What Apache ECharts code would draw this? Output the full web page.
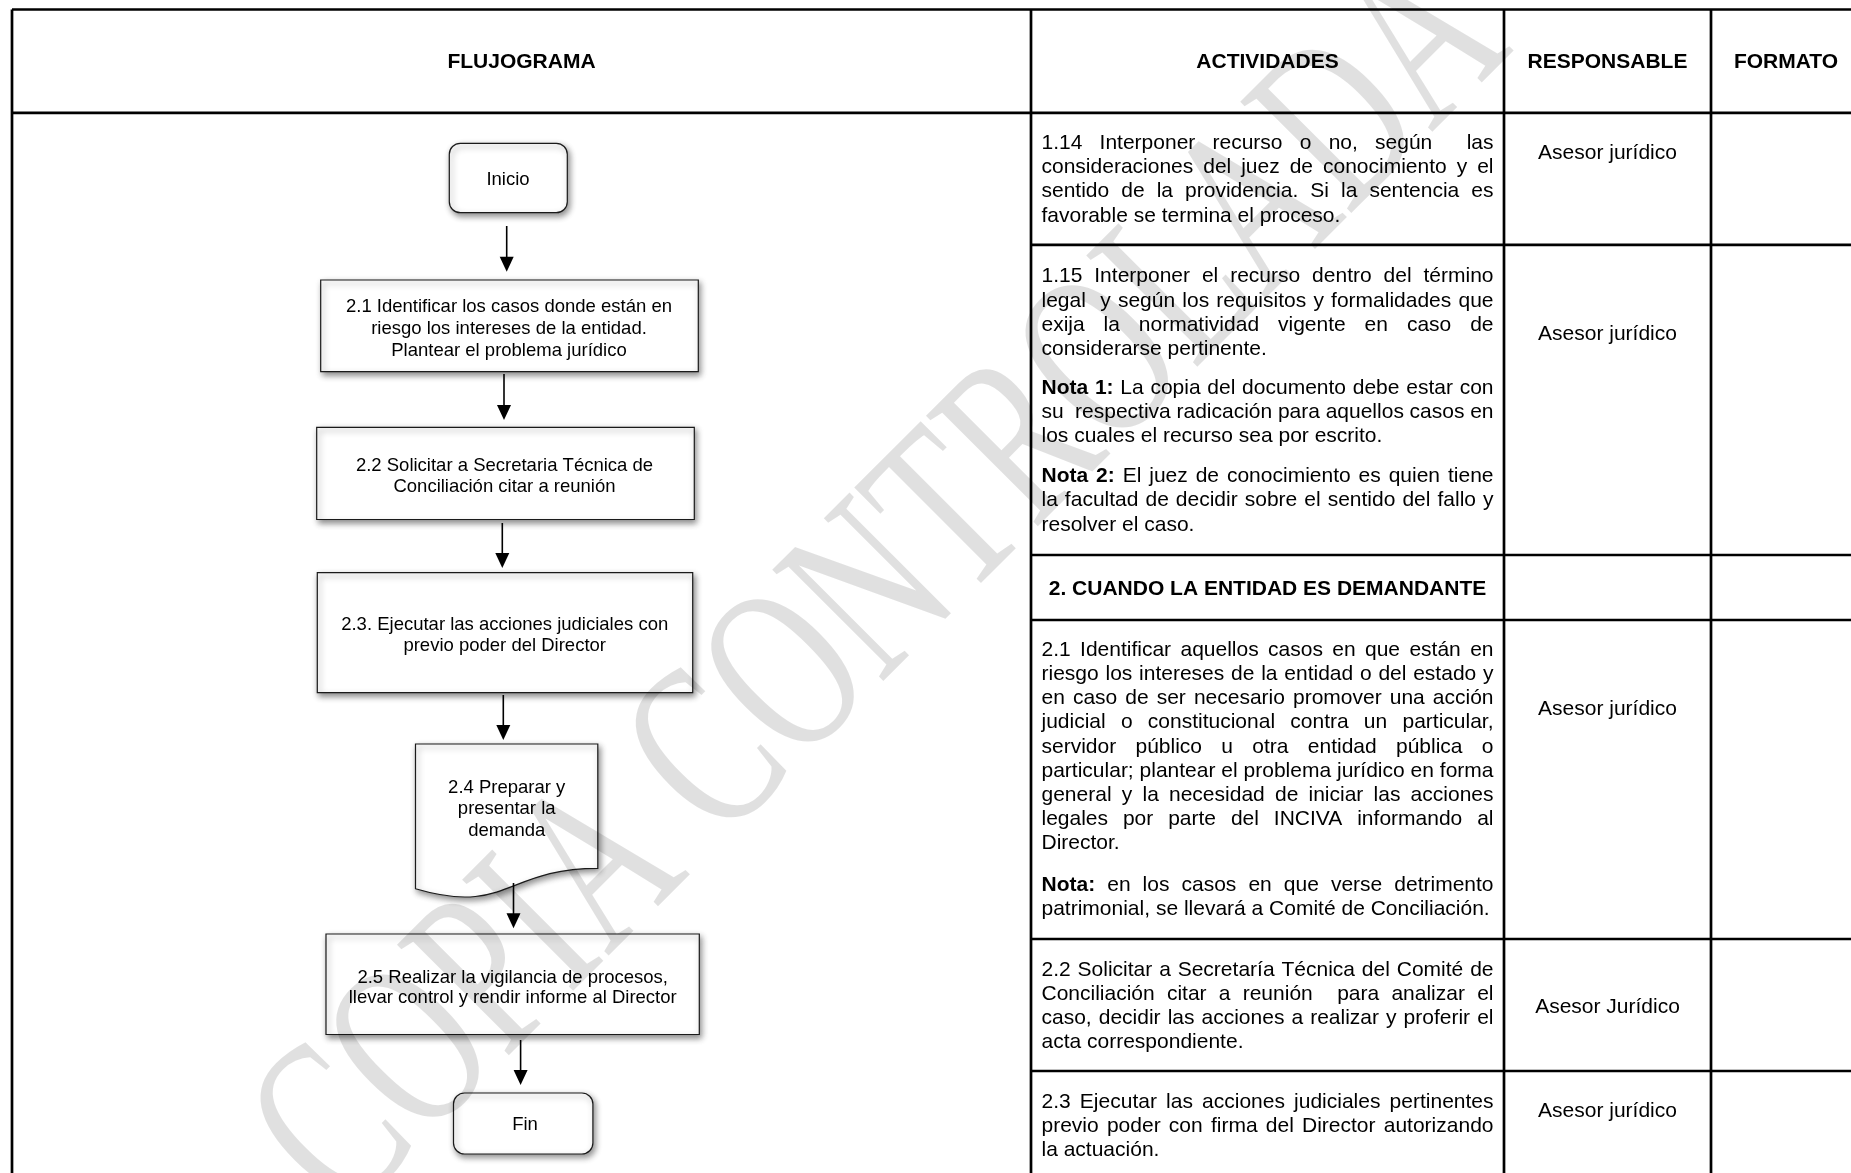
<!DOCTYPE html>
<html><head><meta charset="utf-8">
<script src="https://cdn.jsdelivr.net/npm/echarts@6.0.0/dist/echarts.min.js"></script>
<style>html,body{margin:0;padding:0;background:#fff}#chart{width:1851px;height:1173px}</style>
</head><body><div id="chart"></div>
<script>
// ------------------ DATA (text content) ------------------
const headers = ['FLUJOGRAMA', 'ACTIVIDADES', 'RESPONSABLE', 'FORMATO'];
const flowLabels = [
  ['Inicio'],
  ['2.1 Identificar los casos donde están en', 'riesgo los intereses de la entidad.', 'Plantear el problema jurídico'],
  ['2.2 Solicitar a Secretaria Técnica de', 'Conciliación citar a reunión'],
  ['2.3. Ejecutar las acciones judiciales con', 'previo poder del Director'],
  ['2.4 Preparar y', 'presentar la', 'demanda'],
  ['2.5 Realizar la vigilancia de procesos,', 'llevar control y rendir informe al Director'],
  ['Fin']
];
const flowKinds = ['terminal', 'process', 'process', 'process', 'document', 'process', 'terminal'];
const act114 = ['1.14 Interponer recurso o no, según  las', 'consideraciones del juez de conocimiento y el', 'sentido de la providencia. Si la sentencia es', 'favorable se termina el proceso.'];
const act115 = ['1.15 Interponer el recurso dentro del término', 'legal  y según los requisitos y formalidades que', 'exija la normatividad vigente en caso de', 'considerarse pertinente.'];
const act115nota1 = ['*Nota 1:* La copia del documento debe estar con', 'su  respectiva radicación para aquellos casos en', 'los cuales el recurso sea por escrito.'];
const act115nota2 = ['*Nota 2:* El juez de conocimiento es quien tiene', 'la facultad de decidir sobre el sentido del fallo y', 'resolver el caso.'];
const sectionTitle = '2. CUANDO LA ENTIDAD ES DEMANDANTE';
const act21 = ['2.1 Identificar aquellos casos en que están en', 'riesgo los intereses de la entidad o del estado y', 'en caso de ser necesario promover una acción', 'judicial o constitucional contra un particular,', 'servidor público u otra entidad pública o', 'particular; plantear el problema jurídico en forma', 'general y la necesidad de iniciar las acciones', 'legales por parte del INCIVA informando al', 'Director.'];
const act21nota = ['*Nota:* en los casos en que verse detrimento', 'patrimonial, se llevará a Comité de Conciliación.'];
const act22 = ['2.2 Solicitar a Secretaría Técnica del Comité de', 'Conciliación citar a reunión  para analizar el', 'caso, decidir las acciones a realizar y proferir el', 'acta correspondiente.'];
const act23 = ['2.3 Ejecutar las acciones judiciales pertinentes', 'previo poder con firma del Director autorizando', 'la actuación.'];
const responsables = ['Asesor jurídico', 'Asesor jurídico', 'Asesor jurídico', 'Asesor Jurídico', 'Asesor jurídico'];
const watermarkText = 'COPIA CONTROLADA';

// ------------------ LAYOUT (positions in page units) ------------------
const W = 1851, H = 1173;
const colX = [12, 1031, 1504, 1711, 1861];
const rowY = [9.5, 112.8, 244.8, 555, 620, 939, 1071];
const headerY = 62;
const flowBoxes = [
  [449.3, 143.3, 567.3, 212.7],
  [320.7, 280, 698.3, 371.7],
  [316.7, 427.3, 694.3, 519.5],
  [317.3, 572.7, 692.7, 692.7],
  [415.5, 744, 597.8, 899],
  [326, 934, 699.3, 1034.5],
  [453.5, 1093, 592.9, 1154]
];
const flowTextPos = [[508, 180.2, 0], [509, 328.5, 22], [504.5, 476.2, 20.5], [504.7, 635.4, 21.7], [506.7, 809, 21.5], [512.7, 987.9, 20], [525, 1125.2, 0]];
const arrows = [[506.7, 226, 271.7], [504, 374, 420], [502.3, 523, 568], [503.3, 695, 740], [513.5, 883, 928.3], [520.6, 1040, 1085]];
const paragraphs = [act114, act115, act115nota1, act115nota2, act21, act21nota, act22, act23];
const paragraphY = [143.3, 276.7, 388, 476.5, 650, 885.4, 970, 1102];
const textX0 = 1041.5, textX1 = 1493.5;
const lineH = 24.2;
const sectionY = 589;
const responsableY = [153, 334, 709.5, 1007, 1111];
const watermarkPos = [885, 590];

// ------------------ helpers ------------------
const SANS = '"Liberation Sans", Arial, sans-serif';
const SERIF = '"Liberation Serif", "Times New Roman", serif';
const mctx = document.createElement('canvas').getContext('2d');
function tw(t, font) { mctx.font = font; return mctx.measureText(t).width; }

function lineWords(line, justify, size) {
  const tokens = line.split(' ');
  let bold = false;
  const items = tokens.map(t => {
    let b = bold, s = t;
    if (s.startsWith('*')) { b = true; bold = true; s = s.slice(1); }
    if (s.endsWith('*')) { s = s.slice(0, -1); bold = false; }
    const font = (b ? 'bold ' : '') + size + 'px ' + SANS;
    return { s, b, font, w: s ? tw(s, font) : 0 };
  });
  const total = items.reduce((a, it) => a + it.w, 0);
  const gaps = items.length - 1;
  let gap = tw(' ', size + 'px ' + SANS);
  if (justify && gaps > 0) gap = (textX1 - textX0 - total) / gaps;
  let x = textX0;
  items.forEach(it => { it.x = x; x += it.w + gap; });
  return items.filter(it => it.s);
}

const segs = [];
segs.push([colX[0], rowY[0], W, rowY[0]]);
segs.push([colX[0], rowY[1], W, rowY[1]]);
for (let i = 2; i < rowY.length; i++) segs.push([colX[1], rowY[i], W, rowY[i]]);
for (let i = 0; i < 4; i++) segs.push([colX[i], rowY[0], colX[i], H]);

const chart = echarts.init(document.getElementById('chart'));
const base = { type: 'custom', coordinateSystem: 'cartesian2d', silent: true, animation: false, clip: false };

chart.setOption({
  animation: false,
  backgroundColor: '#fff',
  grid: { left: 0, right: 0, top: 0, bottom: 0 },
  xAxis: { type: 'value', min: 0, max: W, show: false },
  yAxis: { type: 'value', min: 0, max: H, inverse: true, show: false },
  series: [
    Object.assign({}, base, {
      name: 'tabla', z: 2, data: segs,
      renderItem: (p, api) => {
        const a = api.coord([api.value(0), api.value(1)]);
        const b = api.coord([api.value(2), api.value(3)]);
        return { type: 'line', shape: { x1: a[0], y1: a[1], x2: b[0], y2: b[1] }, style: { stroke: '#000', lineWidth: 2.7 } };
      }
    }),
    Object.assign({}, base, {
      name: 'encabezados', z: 3,
      data: headers.map((h, i) => [(colX[i] + colX[i + 1]) / 2, headerY]),
      renderItem: (p, api) => {
        const c = api.coord([api.value(0), api.value(1)]);
        return { type: 'text', x: c[0], y: c[1], style: { text: headers[p.dataIndex], font: 'bold 21px ' + SANS, fill: '#000', align: 'center', verticalAlign: 'middle' } };
      }
    }),
    Object.assign({}, base, {
      name: 'formas', z: 3, data: flowBoxes,
      renderItem: (p, api) => {
        const a = api.coord([api.value(0), api.value(1)]);
        const b = api.coord([api.value(2), api.value(3)]);
        const kind = flowKinds[p.dataIndex];
        const st = { fill: '#fff', stroke: '#1a1a1a', lineWidth: 1.2, shadowBlur: 6, shadowColor: 'rgba(0,0,0,0.45)', shadowOffsetX: 2, shadowOffsetY: 3 };
        if (kind === 'document') {
          const L = a[0], R = b[0], T = a[1], h = b[1] - a[1], M = (L + R) / 2;
          const d = `M${L},${T} L${R},${T} L${R},${T + 0.802 * h} C${M},${T + 0.802 * h} ${M},${T + 1.1075 * h} ${L},${T + 0.934 * h} Z`;
          return { type: 'path', shape: { pathData: d }, style: st };
        }
        return { type: 'rect', shape: { x: a[0], y: a[1], width: b[0] - a[0], height: b[1] - a[1], r: kind === 'terminal' ? 11 : 0 }, style: st };
      }
    }),
    Object.assign({}, base, {
      name: 'flechas', z: 3, data: arrows,
      renderItem: (p, api) => {
        const a = api.coord([api.value(0), api.value(1)]);
        const b = api.coord([api.value(0), api.value(2)]);
        return { type: 'group', children: [
          { type: 'line', shape: { x1: a[0], y1: a[1], x2: b[0], y2: b[1] - 12 }, style: { stroke: '#000', lineWidth: 1.6 } },
          { type: 'polygon', shape: { points: [[b[0] - 7, b[1] - 15], [b[0] + 7, b[1] - 15], [b[0], b[1]]] }, style: { fill: '#000' } }
        ] };
      }
    }),
    Object.assign({}, base, {
      name: 'textoFlujo', z: 4, data: flowTextPos,
      renderItem: (p, api) => {
        const c = api.coord([api.value(0), api.value(1)]);
        const lh = api.value(2);
        const lines = flowLabels[p.dataIndex];
        const n = lines.length;
        return { type: 'group', children: lines.map((t, i) => ({
          type: 'text', x: c[0], y: c[1] + (i - (n - 1) / 2) * lh,
          style: { text: t, font: '18.5px ' + SANS, fill: '#000', align: 'center', verticalAlign: 'middle' }
        })) };
      }
    }),
    Object.assign({}, base, {
      name: 'actividades', z: 4,
      data: paragraphY.map(y => [textX0, y]),
      renderItem: (p, api) => {
        const c = api.coord([api.value(0), api.value(1)]);
        const dx = c[0] - textX0;
        const lines = paragraphs[p.dataIndex];
        const children = [];
        lines.forEach((ln, i) => {
          const words = lineWords(ln, i < lines.length - 1, 21);
          words.forEach(wd => children.push({
            type: 'text', x: wd.x + dx, y: c[1] + i * lineH,
            style: { text: wd.s, font: wd.font, fill: '#000', align: 'left', verticalAlign: 'middle' }
          }));
        });
        return { type: 'group', children };
      }
    }),
    Object.assign({}, base, {
      name: 'seccion', z: 4,
      data: [[(colX[1] + colX[2]) / 2, sectionY]],
      renderItem: (p, api) => {
        const c = api.coord([api.value(0), api.value(1)]);
        return { type: 'text', x: c[0], y: c[1], style: { text: sectionTitle, font: 'bold 21px ' + SANS, fill: '#000', align: 'center', verticalAlign: 'middle' } };
      }
    }),
    Object.assign({}, base, {
      name: 'responsables', z: 4,
      data: responsableY.map(y => [(colX[2] + colX[3]) / 2, y]),
      renderItem: (p, api) => {
        const c = api.coord([api.value(0), api.value(1)]);
        return { type: 'text', x: c[0], y: c[1], style: { text: responsables[p.dataIndex], font: '21px ' + SANS, fill: '#000', align: 'center', verticalAlign: 'middle' } };
      }
    }),
    Object.assign({}, base, {
      name: 'marcaAgua', z: 10,
      data: [watermarkPos],
      renderItem: (p, api) => {
        const c = api.coord([api.value(0), api.value(1)]);
        return { type: 'text', x: c[0], y: c[1], rotation: Math.PI / 4, scaleX: 0.68, scaleY: 1,
          style: { text: watermarkText, font: '240px ' + SERIF, fill: 'rgba(0,0,0,0.12)', align: 'center', verticalAlign: 'middle' } };
      }
    })
  ]
});
</script>
</body></html>
